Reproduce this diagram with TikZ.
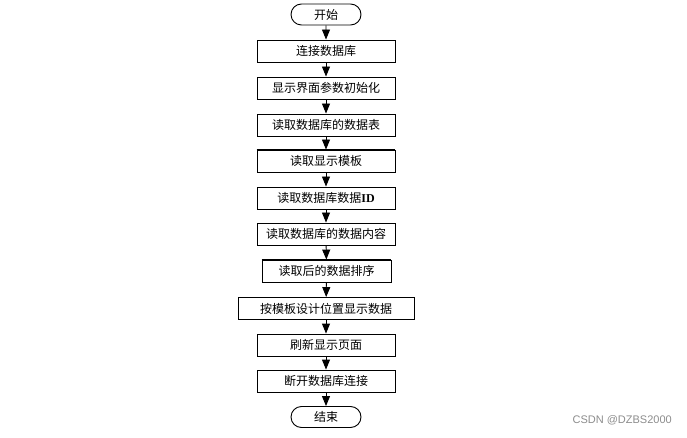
\documentclass[tikz,border=0pt]{standalone}
\usepackage{fontspec}
\newfontfamily\cjk{Noto Sans CJK SC}
\newfontfamily\wm{Liberation Sans}
\newfontfamily\lsf{Liberation Serif}
\usetikzlibrary{arrows.meta,shapes.misc}
\tikzset{
  procbox/.style={draw=black, line width=0.9pt, minimum height=22pt, inner sep=0pt, font=\cjk\fontsize{12}{12}\selectfont},
  term/.style={draw=black, line width=0.9pt, rounded rectangle, minimum width=70pt, minimum height=21pt, inner sep=0pt, font=\cjk\fontsize{12}{12}\selectfont},
  flow/.style={draw=black, line width=0.9pt, -{Triangle[length=10pt,width=8pt]}}
}
\begin{document}
\begin{tikzpicture}[x=1pt,y=-1pt]
\useasboundingbox (0,0) rectangle (687,438);
\node[term] (s) at (326,14.5) {开始};
\node[procbox, minimum width=138pt] (b1) at (326,51) {连接数据库};
\node[procbox, minimum width=138pt] (b2) at (326,88) {显示界面参数初始化};
\node[procbox, minimum width=138pt] (b3) at (326,125) {读取数据库的数据表};
\node[procbox, minimum width=138pt] (b4) at (326,161) {读取显示模板};
\node[procbox, minimum width=138pt] (b5) at (326,198) {读取数据库数据{\lsf\bfseries ID}};
\node[procbox, minimum width=138pt] (b6) at (326,234) {读取数据库的数据内容};
\node[procbox, minimum width=129pt] (b7) at (326.5,271) {读取后的数据排序};
\node[procbox, minimum width=176pt] (b8) at (326,308.5) {按模板设计位置显示数据};
\node[procbox, minimum width=138pt] (b9) at (326,345) {刷新显示页面};
\node[procbox, minimum width=138pt] (b10) at (326,381) {断开数据库连接};
\node[term] (e) at (326,417) {结束};
\draw[line width=1.6pt] (b4.north west) -- (b4.north east);
\draw[line width=1.6pt] (b7.north west) -- (b7.north east);
\draw[flow] (s) -- (b1);
\draw[flow] (b1) -- (b2);
\draw[flow] (b2) -- (b3);
\draw[flow] (b3) -- (b4);
\draw[flow] (b4) -- (b5);
\draw[flow] (b5) -- (b6);
\draw[flow] (b6) -- (b7);
\draw[flow] (b7) -- (b8);
\draw[flow] (b8) -- (b9);
\draw[flow] (b9) -- (b10);
\draw[flow] (b10) -- (e);
\node[text=black!45, font=\wm\fontsize{11}{12}\selectfont, anchor=east, inner sep=0pt] (wm) at (672,420) {CSDN @DZBS2000};
\end{tikzpicture}
\end{document}
